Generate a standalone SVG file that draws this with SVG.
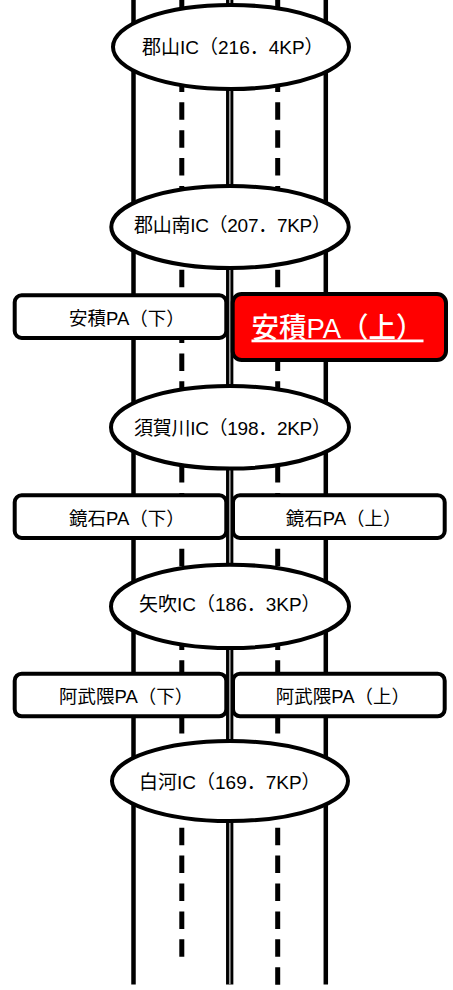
<svg xmlns="http://www.w3.org/2000/svg" width="453" height="990" viewBox="0 0 453 990">
<style>
.solid{stroke:#000;stroke-width:4.5;fill:none}
.dash{stroke:#000;stroke-width:5;stroke-dasharray:17.5 10.4;fill:none}
.ic{fill:#fff;stroke:#000;stroke-width:4}
.pa{fill:#fff;stroke:#000;stroke-width:4}
.pared{fill:#ff0000;stroke:#000;stroke-width:4}
text{font-family:"Liberation Sans","Noto Sans CJK JP",sans-serif;font-size:19px;fill:#000}
.pt{font-size:18.5px}
.big{font-size:28px;font-weight:500;fill:#fff;text-decoration:underline}
</style>
<rect width="453" height="990" fill="#fff"/>
<g id="connectors">
<line class="solid" x1="133.5" y1="0" x2="133.5" y2="984.5"/>
<line class="solid" x1="325.8" y1="0" x2="325.8" y2="984.5"/>
<line class="dash" x1="181.8" y1="-9.3" x2="181.8" y2="960"/>
<line class="dash" x1="277.7" y1="-9.3" x2="277.7" y2="984.7"/>
<line x1="229.7" y1="0" x2="229.7" y2="984.5" stroke="#000" stroke-width="7.3"/>
<line x1="229.8" y1="0" x2="229.8" y2="984.5" stroke="#a0a0a0" stroke-width="1.7"/>
</g>
<g id="koriyama-ic">
<ellipse class="ic" cx="231" cy="47" rx="118" ry="42"/>
<text x="142" y="53.5">郡山IC（216．4KP）</text>
</g>
<g id="koriyama-minami-ic">
<ellipse class="ic" cx="230" cy="227" rx="118.7" ry="41"/>
<text x="134" y="231.5" textLength="197" lengthAdjust="spacing">郡山南IC（207．7KP）</text>
</g>
<g id="asaka-pa-down">
<rect class="pa" x="14.7" y="295.3" width="211.6" height="42.7" rx="7"/>
<text class="pt" x="69" y="325">安積PA（下）</text>
</g>
<g id="asaka-pa-up">
<rect class="pared" x="232.7" y="294" width="213.3" height="66" rx="9"/>
<text class="big" x="251.5" y="337.5" textLength="172" lengthAdjust="spacingAndGlyphs">安積PA（上）</text>
</g>
<g id="sukagawa-ic">
<ellipse class="ic" cx="230" cy="427.3" rx="119" ry="41.3"/>
<text x="134" y="435" textLength="197" lengthAdjust="spacing">須賀川IC（198．2KP）</text>
</g>
<g id="kagamiishi-pa-down">
<rect class="pa" x="14.7" y="495.3" width="211.6" height="42.7" rx="7"/>
<text class="pt" x="69" y="525">鏡石PA（下）</text>
</g>
<g id="kagamiishi-pa-up">
<rect class="pa" x="233" y="495.3" width="211.7" height="42.7" rx="7"/>
<text class="pt" x="285.7" y="525">鏡石PA（上）</text>
</g>
<g id="yabuki-ic">
<ellipse class="ic" cx="230" cy="606.4" rx="119" ry="41.7"/>
<text x="139" y="610.5">矢吹IC（186．3KP）</text>
</g>
<g id="abukuma-pa-down">
<rect class="pa" x="14.7" y="673.7" width="211.6" height="42.6" rx="7"/>
<text class="pt" x="59" y="702.5">阿武隈PA（下）</text>
</g>
<g id="abukuma-pa-up">
<rect class="pa" x="233" y="673.7" width="211.7" height="42.6" rx="7"/>
<text class="pt" x="275.7" y="702.5">阿武隈PA（上）</text>
</g>
<g id="shirakawa-ic">
<ellipse class="ic" cx="230" cy="781" rx="118" ry="40"/>
<text x="139" y="788.5">白河IC（169．7KP）</text>
</g>
</svg>
